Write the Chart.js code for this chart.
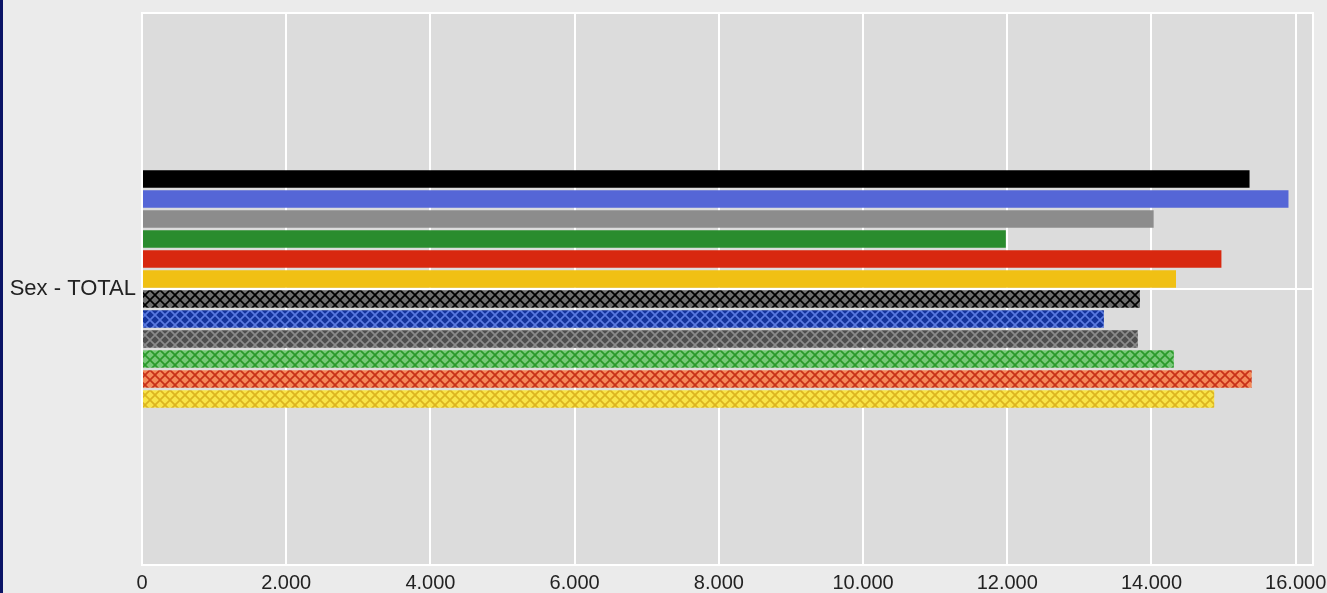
<!DOCTYPE html>
<html>
<head>
<meta charset="utf-8">
<script src="https://cdn.jsdelivr.net/npm/chart.js@4.4.0/dist/chart.umd.min.js"></script>
<style>
  html, body { margin: 0; padding: 0; background: #ebebeb; }
  #wrap { width: 1327px; height: 593px; }
</style>
</head>
<body>
<div id="wrap"><canvas id="chart" width="1327" height="593"></canvas></div>
<script>
const categories = ['Sex - TOTAL'];
const seriesValues = [15360, 15900, 14030, 11980, 14970, 14340, 13840, 13340, 13810, 14310, 15390, 14870];
const xTicks = [0, 2000, 4000, 6000, 8000, 10000, 12000, 14000, 16000];
const axisMax = 16240;

// fill colour, hatch line colour (null = solid)
const seriesFills = ['#000000', '#5566d6', '#8c8c8c', '#2a8c2e', '#d8280f', '#f0c014',
  '#6e6e6e', '#14349c', '#4e4e4e', '#78c878', '#f48a5a', '#f8e448'];
const seriesHatch = [null, null, null, null, null, null,
  '#000000', '#5a7ae0', '#8a8a8a', '#2a9a2a', '#c83018', '#dcb420'];

const makeHatch = (base, line) => {
  const size = 10;
  const c = document.createElement('canvas');
  c.width = size;
  c.height = size;
  const g = c.getContext('2d');
  g.fillStyle = base;
  g.fillRect(0, 0, size, size);
  g.strokeStyle = line;
  g.lineWidth = 1.7;
  g.beginPath();
  g.moveTo(0, 0); g.lineTo(size, size);
  g.moveTo(size, 0); g.lineTo(0, size);
  g.stroke();
  return g.createPattern(c, 'repeat');
};

const plotFrame = {
  id: 'plotFrame',
  beforeDraw(chart) {
    const { ctx, chartArea: a } = chart;
    ctx.save();
    ctx.fillStyle = '#ebebeb';
    ctx.fillRect(0, 0, chart.width, chart.height);
    ctx.fillStyle = '#0b1466';
    ctx.fillRect(0, 0, 3, chart.height);
    ctx.fillStyle = '#dcdcdc';
    ctx.fillRect(a.left, a.top, a.right - a.left, a.bottom - a.top);
    ctx.strokeStyle = '#ffffff';
    ctx.lineWidth = 2;
    ctx.strokeRect(a.left, a.top, a.right - a.left, a.bottom - a.top);
    ctx.restore();
  }
};

const datasets = seriesValues.map((v, i) => ({
  label: 'Series ' + (i + 1),
  data: [v],
  backgroundColor: seriesHatch[i] ? makeHatch(seriesFills[i], seriesHatch[i]) : seriesFills[i],
  borderWidth: 0,
  categoryPercentage: 0.435,
  barPercentage: 0.88
}));

new Chart(document.getElementById('chart'), {
  type: 'bar',
  data: { labels: categories, datasets },
  plugins: [plotFrame],
  options: {
    indexAxis: 'y',
    responsive: false,
    animation: false,
    layout: { padding: { top: 13, right: 14, left: 0, bottom: 0 } },
    plugins: { legend: { display: false }, tooltip: { enabled: false } },
    scales: {
      x: {
        min: 0,
        max: axisMax,
        afterFit: (axis) => {
          axis.height = 28;
          axis.paddingLeft = 0;
          axis.paddingRight = 0;
        },
        afterBuildTicks: (axis) => { axis.ticks = xTicks.map((value) => ({ value })); },
        border: { display: false },
        grid: { color: '#ffffff', lineWidth: 2, drawTicks: false },
        ticks: {
          padding: 6,
          color: '#222222',
          font: { family: 'Liberation Sans, Arial, sans-serif', size: 20 },
          callback: (value) => value.toLocaleString('de-DE')
        }
      },
      y: {
        afterFit: (axis) => {
          axis.width = 142;
          axis.paddingTop = 0;
          axis.paddingBottom = 0;
        },
        border: { display: false },
        grid: { offset: false, color: '#ffffff', lineWidth: 2, drawTicks: false },
        ticks: {
          padding: 6,
          color: '#222222',
          font: { family: 'Liberation Sans, Arial, sans-serif', size: 22 }
        }
      }
    }
  }
});
</script>
</body>
</html>
